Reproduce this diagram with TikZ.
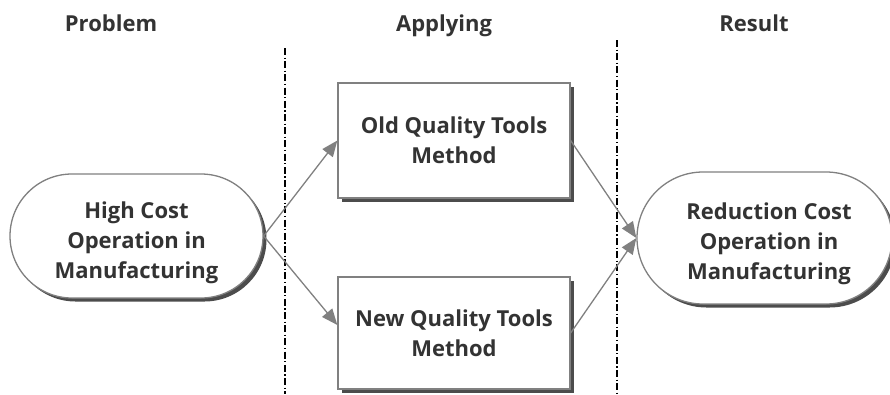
\documentclass[tikz,border=0pt]{standalone}
\usepackage{fontspec}
\setmainfont{Open Sans}
\usetikzlibrary{shapes.misc,shadows,arrows.meta}
\definecolor{txt}{HTML}{333333}
\definecolor{edge}{HTML}{808080}
\begin{document}
\begin{tikzpicture}[x=1pt,y=-1pt,
  lbl/.style={font=\fontsize{22}{30}\selectfont\bfseries, text=txt, align=center},
  shad/.style={drop shadow={shadow xshift=3.5pt, shadow yshift=-3.5pt, fill=black!70, opacity=1}},
  stad/.style={rounded rectangle, draw=edge, line width=1.3pt, fill=white, shad, inner sep=0pt},
  boxx/.style={lbl, rectangle, draw=edge, line width=1.3pt, fill=white, shad, inner sep=0pt},
  conn/.style={draw=edge, line width=1.3pt, -{Triangle[length=16pt,width=13pt]}},
  sep/.style={black, line width=1.2pt, dash pattern=on 7pt off 2.5pt on 1.2pt off 2.5pt},
  head/.style={font=\fontsize{22}{24}\selectfont\bfseries, text=txt, anchor=base}]
\useasboundingbox (0,0) rectangle (890,394);
\node[head] (t1) at (111,31) {Problem};
\node[head] (t2) at (444,31) {Applying};
\node[head] (t3) at (754,31) {Result};
\coordinate (s1a) at (285,48); \coordinate (s1b) at (285,394);
\coordinate (s2a) at (617,40); \coordinate (s2b) at (617,394);
\draw[sep] (s1a) -- (s1b);
\draw[sep] (s2a) -- (s2b);
\node[stad, minimum width=253pt, minimum height=124pt] (hc) at (136.5,236) {};
\node[lbl] (hcT) at (136.5,243) {High Cost\\Operation in\\Manufacturing};
\node[boxx, minimum width=232pt, minimum height=115pt] (old) at (454,140.5) {Old Quality Tools\\Method};
\node[boxx, minimum width=232pt, minimum height=112pt] (new) at (454,333) {New Quality Tools\\Method};
\node[stad, minimum width=255pt, minimum height=132pt] (rc) at (764.5,238) {};
\node[lbl] (rcT) at (769,244) {Reduction Cost\\Operation in\\Manufacturing};
\draw[conn] (hc.east) -- (old.west);
\draw[conn] (hc.east) -- ([yshift=8pt]new.west);
\draw[conn] (old.east) -- (rc.west);
\draw[conn] (new.east) -- (rc.west);
\end{tikzpicture}
\end{document}
